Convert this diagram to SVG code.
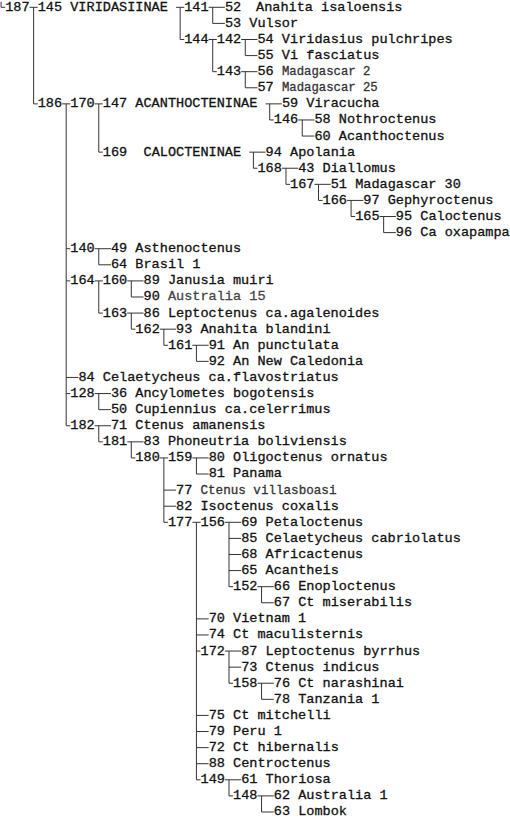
<svg xmlns="http://www.w3.org/2000/svg" width="510" height="820" viewBox="0 0 510 820">
<style>
text{font-family:"Liberation Mono","DejaVu Sans Mono",monospace;font-size:13.57px;fill:#111;stroke:#111;stroke-width:0.3px}
.nar{font-size:12.3px;fill:#333;stroke:#333}
.nar2{font-size:12.6px;fill:#333;stroke:#333}
.gr{fill:#444;stroke:#444}
.c{fill:none;stroke:#333;stroke-width:1}
</style>
<rect width="510" height="820" fill="#fff"/>
<g transform="translate(-3,10.8) scale(1,0.9965)">
<g id="connectors" class="c">
<path d="M4.07 -9 V-3.5 H8.14"/>
<path d="M32.56 -3.5 H40.7 M36.63 -3.5 V93.4 H40.7"/>
<path d="M179.08 -3.5 H187.22 M183.15 -3.5 V28.8 H187.22"/>
<path d="M211.64 -3.5 H227.92 M215.71 -3.5 V12.65 H227.92"/>
<path d="M211.64 28.8 H219.78 M215.71 28.8 V61.1 H219.78"/>
<path d="M244.2 28.8 H260.48 M248.27 28.8 V44.95 H260.48"/>
<path d="M244.2 61.1 H260.48 M248.27 61.1 V77.25 H260.48"/>
<path d="M65.12 93.4 H73.26 M69.19 93.4 V416.4 H73.26 M69.19 238.75 H73.26 M69.19 271.05 H73.26 M69.19 367.95 H81.4 M69.19 384.1 H73.26"/>
<path d="M97.68 93.4 H105.82 M101.75 93.4 V141.85 H105.82"/>
<path d="M268.62 93.4 H284.9 M272.69 93.4 V109.55 H276.76"/>
<path d="M301.18 109.55 H317.46 M305.25 109.55 V125.7 H317.46"/>
<path d="M252.34 141.85 H268.62 M256.41 141.85 V158 H260.48"/>
<path d="M284.9 158 H301.18 M288.97 158 V174.15 H293.04"/>
<path d="M317.46 174.15 H333.74 M321.53 174.15 V190.3 H325.6"/>
<path d="M350.02 190.3 H366.3 M354.09 190.3 V206.45 H358.16"/>
<path d="M382.58 206.45 H398.86 M386.65 206.45 V222.6 H398.86"/>
<path d="M97.68 238.75 H113.96 M101.75 238.75 V254.9 H113.96"/>
<path d="M97.68 271.05 H105.82 M101.75 271.05 V303.35 H105.82"/>
<path d="M130.24 271.05 H146.52 M134.31 271.05 V287.2 H146.52"/>
<path d="M130.24 303.35 H146.52 M134.31 303.35 V319.5 H138.38"/>
<path d="M162.8 319.5 H179.08 M166.87 319.5 V335.65 H170.94"/>
<path d="M195.36 335.65 H211.64 M199.43 335.65 V351.8 H211.64"/>
<path d="M97.68 384.1 H113.96 M101.75 384.1 V400.25 H113.96"/>
<path d="M97.68 416.4 H113.96 M101.75 416.4 V432.55 H105.82"/>
<path d="M130.24 432.55 H146.52 M134.31 432.55 V448.7 H138.38"/>
<path d="M162.8 448.7 H170.94 M166.87 448.7 V513.3 H170.94 M166.87 481 H179.08 M166.87 497.15 H179.08"/>
<path d="M195.36 448.7 H211.64 M199.43 448.7 V464.85 H211.64"/>
<path d="M195.36 513.3 H203.5 M199.43 513.3 V771.7 H203.5 M199.43 610.2 H211.64 M199.43 626.35 H211.64 M199.43 642.5 H203.5 M199.43 707.1 H211.64 M199.43 723.25 H211.64 M199.43 739.4 H211.64 M199.43 755.55 H211.64"/>
<path d="M227.92 513.3 H244.2 M231.99 513.3 V577.9 H236.06 M231.99 529.45 H244.2 M231.99 545.6 H244.2 M231.99 561.75 H244.2"/>
<path d="M260.48 577.9 H276.76 M264.55 577.9 V594.05 H276.76"/>
<path d="M227.92 642.5 H244.2 M231.99 642.5 V674.8 H236.06 M231.99 658.65 H244.2"/>
<path d="M260.48 674.8 H276.76 M264.55 674.8 V690.95 H276.76"/>
<path d="M227.92 771.7 H244.2 M231.99 771.7 V787.85 H236.06"/>
<path d="M260.48 787.85 H276.76 M264.55 787.85 V804 H276.76"/>
</g>
<g id="n187"><text x="8.14" y="0">187</text></g>
<g id="n145"><text x="40.7" y="0">145 VIRIDASIINAE</text></g>
<g id="n141"><text x="187.22" y="0">141</text></g>
<g id="t52"><text x="227.92" y="0">52</text><text x="259" y="0">Anahita isaloensis</text></g>
<g id="t53"><text x="227.92" y="16.15">53 Vulsor</text></g>
<g id="n144"><text x="187.22" y="32.3">144</text></g>
<g id="n142"><text x="219.78" y="32.3">142</text></g>
<g id="t54"><text x="260.48" y="32.3">54 Viridasius pulchripes</text></g>
<g id="t55"><text x="260.48" y="48.45">55 Vi fasciatus</text></g>
<g id="n143"><text x="219.78" y="64.6">143</text></g>
<g id="t56"><text x="260.48" y="64.6">56</text><text class="nar" x="284.9" y="64.6">Madagascar 2</text></g>
<g id="t57"><text x="260.48" y="80.75">57</text><text class="nar" x="284.9" y="80.75">Madagascar 25</text></g>
<g id="n186"><text x="40.7" y="96.9">186</text></g>
<g id="n170"><text x="73.26" y="96.9">170</text></g>
<g id="n147"><text x="105.82" y="96.9">147 ACANTHOCTENINAE</text></g>
<g id="t59"><text x="284.9" y="96.9">59 Viracucha</text></g>
<g id="n146"><text x="276.76" y="113.05">146</text></g>
<g id="t58"><text x="317.46" y="113.05">58 Nothroctenus</text></g>
<g id="t60"><text x="317.46" y="129.2">60 Acanthoctenus</text></g>
<g id="n169"><text x="105.82" y="145.35">169</text><text x="146.52" y="145.35">CALOCTENINAE</text></g>
<g id="t94"><text x="268.62" y="145.35">94 Apolania</text></g>
<g id="n168"><text x="260.48" y="161.5">168</text></g>
<g id="t43"><text x="301.18" y="161.5">43 Diallomus</text></g>
<g id="n167"><text x="293.04" y="177.65">167</text></g>
<g id="t51"><text x="333.74" y="177.65">51 Madagascar 30</text></g>
<g id="n166"><text x="325.6" y="193.8">166</text></g>
<g id="t97"><text x="366.3" y="193.8">97 Gephyroctenus</text></g>
<g id="n165"><text x="358.16" y="209.95">165</text></g>
<g id="t95"><text x="398.86" y="209.95">95 Caloctenus</text></g>
<g id="t96"><text x="398.86" y="226.1">96 Ca oxapampa</text></g>
<g id="n140"><text x="73.26" y="242.25">140</text></g>
<g id="t49"><text x="113.96" y="242.25">49 Asthenoctenus</text></g>
<g id="t64"><text x="113.96" y="258.4">64 Brasil 1</text></g>
<g id="n164"><text x="73.26" y="274.55">164</text></g>
<g id="n160"><text x="105.82" y="274.55">160</text></g>
<g id="t89"><text x="146.52" y="274.55">89 Janusia muiri</text></g>
<g id="t90"><text x="146.52" y="290.7">90 <tspan class="gr">Australia 15</tspan></text></g>
<g id="n163"><text x="105.82" y="306.85">163</text></g>
<g id="t86"><text x="146.52" y="306.85">86 Leptoctenus ca.agalenoides</text></g>
<g id="n162"><text x="138.38" y="323">162</text></g>
<g id="t93"><text x="179.08" y="323">93 Anahita blandini</text></g>
<g id="n161"><text x="170.94" y="339.15">161</text></g>
<g id="t91"><text x="211.64" y="339.15">91 An punctulata</text></g>
<g id="t92"><text x="211.64" y="355.3">92 An New Caledonia</text></g>
<g id="t84"><text x="81.4" y="371.45">84 Celaetycheus ca.flavostriatus</text></g>
<g id="n128"><text x="73.26" y="387.6">128</text></g>
<g id="t36"><text x="113.96" y="387.6">36 Ancylometes bogotensis</text></g>
<g id="t50"><text x="113.96" y="403.75">50 Cupiennius ca.celerrimus</text></g>
<g id="n182"><text x="73.26" y="419.9">182</text></g>
<g id="t71"><text x="113.96" y="419.9">71 Ctenus amanensis</text></g>
<g id="n181"><text x="105.82" y="436.05">181</text></g>
<g id="t83"><text x="146.52" y="436.05">83 Phoneutria boliviensis</text></g>
<g id="n180"><text x="138.38" y="452.2">180</text></g>
<g id="n159"><text x="170.94" y="452.2">159</text></g>
<g id="t80"><text x="211.64" y="452.2">80 Oligoctenus ornatus</text></g>
<g id="t81"><text x="211.64" y="468.35">81 Panama</text></g>
<g id="t77"><text x="179.08" y="484.5">77</text><text class="nar2" x="203.5" y="484.5">Ctenus villasboasi</text></g>
<g id="t82"><text x="179.08" y="500.65">82 Isoctenus coxalis</text></g>
<g id="n177"><text x="170.94" y="516.8">177</text></g>
<g id="n156"><text x="203.5" y="516.8">156</text></g>
<g id="t69"><text x="244.2" y="516.8">69 Petaloctenus</text></g>
<g id="t85"><text x="244.2" y="532.95">85 Celaetycheus cabriolatus</text></g>
<g id="t68"><text x="244.2" y="549.1">68 Africactenus</text></g>
<g id="t65"><text x="244.2" y="565.25">65 Acantheis</text></g>
<g id="n152"><text x="236.06" y="581.4">152</text></g>
<g id="t66"><text x="276.76" y="581.4">66 Enoploctenus</text></g>
<g id="t67"><text x="276.76" y="597.55">67 Ct miserabilis</text></g>
<g id="t70"><text x="211.64" y="613.7">70 Vietnam 1</text></g>
<g id="t74"><text x="211.64" y="629.85">74 Ct maculisternis</text></g>
<g id="n172"><text x="203.5" y="646">172</text></g>
<g id="t87"><text x="244.2" y="646">87 Leptoctenus byrrhus</text></g>
<g id="t73"><text x="244.2" y="662.15">73 Ctenus indicus</text></g>
<g id="n158"><text x="236.06" y="678.3">158</text></g>
<g id="t76"><text x="276.76" y="678.3">76 Ct narashinai</text></g>
<g id="t78"><text x="276.76" y="694.45">78 Tanzania 1</text></g>
<g id="t75"><text x="211.64" y="710.6">75 Ct mitchelli</text></g>
<g id="t79"><text x="211.64" y="726.75">79 Peru 1</text></g>
<g id="t72"><text x="211.64" y="742.9">72 Ct hibernalis</text></g>
<g id="t88"><text x="211.64" y="759.05">88 Centroctenus</text></g>
<g id="n149"><text x="203.5" y="775.2">149</text></g>
<g id="t61"><text x="244.2" y="775.2">61 Thoriosa</text></g>
<g id="n148"><text x="236.06" y="791.35">148</text></g>
<g id="t62"><text x="276.76" y="791.35">62 Australia 1</text></g>
<g id="t63"><text x="276.76" y="807.5">63 Lombok</text></g>
</g>
</svg>
